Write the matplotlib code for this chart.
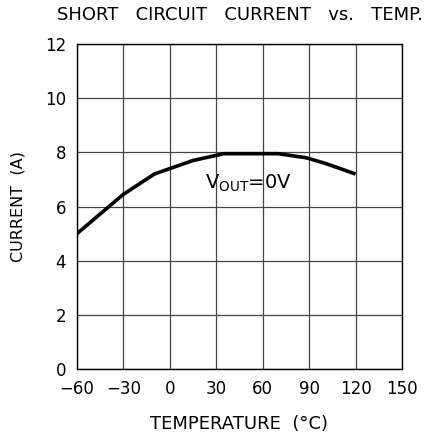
import matplotlib
matplotlib.use("Agg")
import matplotlib.pyplot as plt

temps = [-60, -30, -10, 15, 35, 70, 88, 100, 120]
current = [5.0, 6.45, 7.2, 7.7, 7.95, 7.95, 7.8, 7.6, 7.2]
xticks = [-60, -30, 0, 30, 60, 90, 120, 150]
yticks = [0, 2, 4, 6, 8, 10, 12]

plt.rcParams['font.family'] = ['DejaVu Sans']
fig = plt.figure(figsize=(4.38, 4.38), dpi=100)
W = H = 438
ax = fig.add_axes([77 / W, 1 - 369 / H, 325 / W, 325 / H])
ax.plot(temps, current, color='black', lw=2.6, solid_capstyle='butt')
ax.set_xlim(-60, 150)
ax.set_ylim(0, 12)
ax.set_xticks(xticks)
ax.set_yticks(yticks)
ax.set_xticklabels([f"{t}".replace('-', '\u2212') for t in xticks])
ax.grid(True, color='#444444', lw=0.9)
ax.set_axisbelow(True)
ax.tick_params(length=0, labelsize=12, pad=8)
for s in ax.spines.values():
    s.set_color('black')
    s.set_linewidth(1.0)
ax.set_xlabel('TEMPERATURE  (°C)', fontsize=13, labelpad=12)
ax.set_ylabel('CURRENT  (A)', fontsize=11.5, labelpad=14)
ax.text(22.5, 6.85, r'V$_{\mathrm{OUT}}$=0V', fontsize=14, va='center', ha='left')
fig.text(240 / W, 1 - 15 / H, 'SHORT   CIRCUIT   CURRENT   vs.   TEMP.', fontsize=13,
         ha='center', va='center')
fig.savefig('out.png', dpi=100)
